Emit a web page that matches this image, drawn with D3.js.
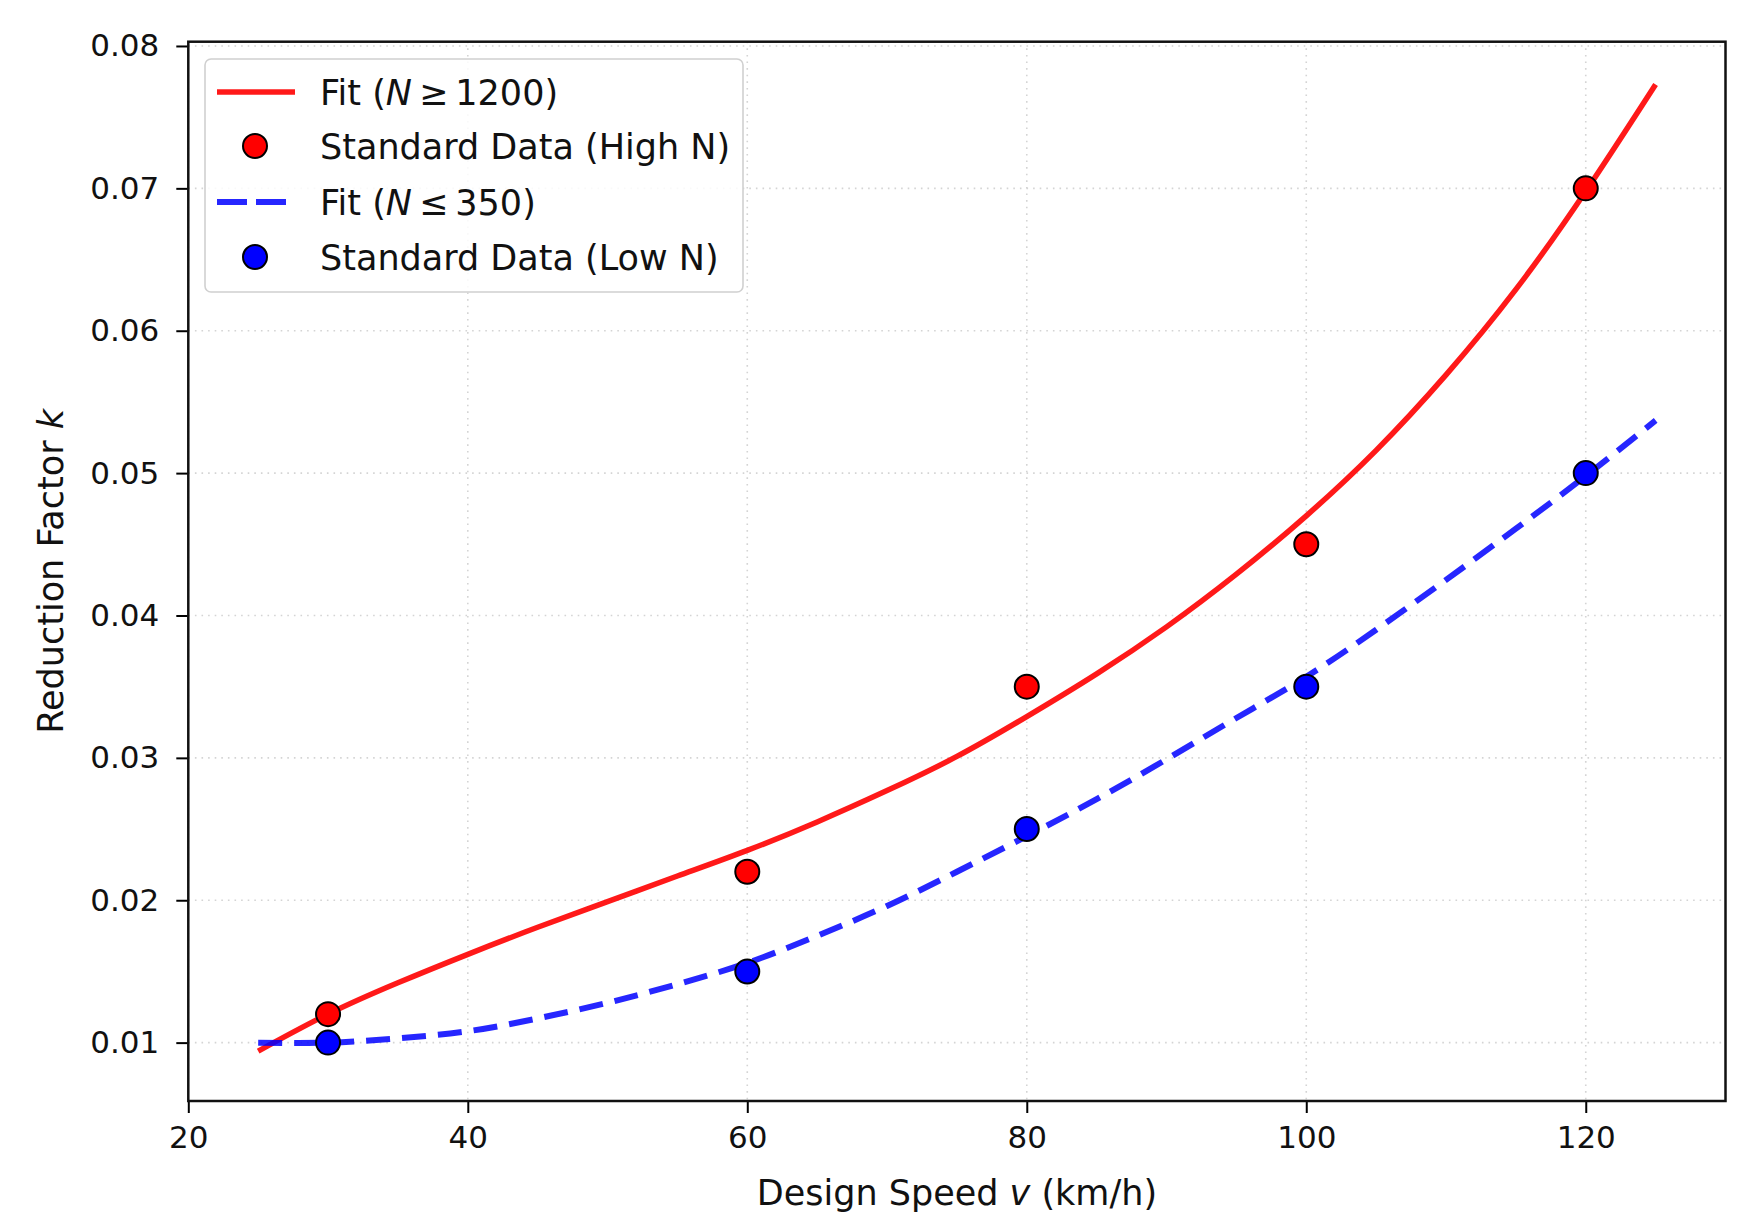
<!DOCTYPE html>
<html>
<head>
<meta charset="utf-8">
<script src="https://cdn.jsdelivr.net/npm/d3@7"></script>
<style>
  html, body { margin: 0; padding: 0; background: #fff; }
  svg { display: block; font-family: "DejaVu Sans", sans-serif; }
</style>
</head>
<body>
<svg id="chart" width="1763" height="1227"></svg>
<script>
// ---- data ----
const pointSpeeds = [30, 60, 80, 100, 120];
const highNData = [0.012, 0.022, 0.035, 0.045, 0.070];
const lowNData  = [0.010, 0.015, 0.025, 0.035, 0.050];

const fitSpeeds = [25, 30, 35, 40, 45, 50, 55, 60, 65, 70, 75, 80, 85, 90, 95, 100, 105, 110, 115, 120, 125];
const fitHigh = [0.0094, 0.0120, 0.0142, 0.0162, 0.0181, 0.0199, 0.0217, 0.0235, 0.0255, 0.0277, 0.0301,
                 0.0329, 0.0359, 0.0392, 0.0429, 0.0470, 0.0516, 0.0569, 0.0629, 0.0698, 0.0773];
const fitLow  = [0.0100, 0.0100, 0.0103, 0.0108, 0.0117, 0.0128, 0.0141, 0.0156, 0.0175, 0.0196, 0.0220,
                 0.0245, 0.0271, 0.0299, 0.0328, 0.0357, 0.0390, 0.0425, 0.0461, 0.0498, 0.0537];

const xTicks = [20, 40, 60, 80, 100, 120];
const yTicks = [0.01, 0.02, 0.03, 0.04, 0.05, 0.06, 0.07, 0.08];
const xDomain = [20, 130];
const yDomain = [0.0059, 0.0803];

const xLabel = "Design Speed ";
const yLabel = "Reduction Factor ";

// ---- layout ----
const L = 188.3, R = 1725.5, T = 41.7, B = 1101;
const svg = d3.select("#chart");

const x = d3.scaleLinear().domain(xDomain).range([L, R]);
const y = d3.scaleLinear().domain(yDomain).range([B, T]);

// grid
const grid = svg.append("g");
grid.selectAll("line.gx").data(xTicks).join("line")
  .attr("x1", d => x(d)).attr("x2", d => x(d)).attr("y1", T).attr("y2", B)
  .attr("stroke", "#d4d4d4").attr("stroke-width", 1.6).attr("stroke-dasharray", "1.6,5");
grid.selectAll("line.gy").data(yTicks).join("line")
  .attr("y1", d => y(d)).attr("y2", d => y(d)).attr("x1", L).attr("x2", R)
  .attr("stroke", "#d4d4d4").attr("stroke-width", 1.6).attr("stroke-dasharray", "1.6,5");

// axes
const xAxis = d3.axisBottom(x).tickValues(xTicks).tickFormat(d3.format("d")).tickSize(12).tickPadding(13);
const yAxis = d3.axisLeft(y).tickValues(yTicks).tickFormat(d3.format(".2f")).tickSize(12).tickPadding(17);

const gx = svg.append("g").attr("transform", `translate(0,${B})`).call(xAxis);
const gy = svg.append("g").attr("transform", `translate(${L},0)`).call(yAxis);
[gx, gy].forEach(g => {
  g.select(".domain").remove();
  g.selectAll(".tick line").attr("stroke", "#000").attr("stroke-width", 2);
  g.selectAll(".tick text").attr("fill", "#111").style("font-size", "31px")
    .style("font-family", "DejaVu Sans, sans-serif");
});

// lines
const line = d3.line().x(d => x(d[0])).y(d => y(d[1])).curve(d3.curveNatural);
svg.append("path")
  .datum(fitSpeeds.map((v, i) => [v, fitHigh[i]]))
  .attr("d", line).attr("fill", "none")
  .attr("stroke", "#ff0000").attr("stroke-opacity", 0.9).attr("stroke-width", 5.5);
svg.append("path")
  .datum(fitSpeeds.map((v, i) => [v, fitLow[i]]))
  .attr("d", line).attr("fill", "none")
  .attr("stroke", "#0000ff").attr("stroke-opacity", 0.85).attr("stroke-width", 6)
  .attr("stroke-dasharray", "24,12");

// points
svg.append("g").selectAll("circle").data(pointSpeeds.map((v, i) => [v, highNData[i]])).join("circle")
  .attr("cx", d => x(d[0])).attr("cy", d => y(d[1])).attr("r", 12)
  .attr("fill", "#ff0000").attr("stroke", "#000").attr("stroke-width", 2);
svg.append("g").selectAll("circle").data(pointSpeeds.map((v, i) => [v, lowNData[i]])).join("circle")
  .attr("cx", d => x(d[0])).attr("cy", d => y(d[1])).attr("r", 12)
  .attr("fill", "#0000ff").attr("stroke", "#000").attr("stroke-width", 2);

// spines
svg.append("rect").attr("x", L).attr("y", T).attr("width", R - L).attr("height", B - T)
  .attr("fill", "none").attr("stroke", "#111").attr("stroke-width", 2.5);

// axis labels
const xl = svg.append("text").attr("x", (L + R) / 2).attr("y", 1205)
  .attr("text-anchor", "middle").style("font-size", "35px").attr("fill", "#111");
xl.append("tspan").text(xLabel);
xl.append("tspan").style("font-style", "italic").text("v");
xl.append("tspan").text(" (km/h)");

const yl = svg.append("text").attr("transform", `translate(63,${(T + B) / 2}) rotate(-90)`)
  .attr("text-anchor", "middle").style("font-size", "35px").attr("fill", "#111");
yl.append("tspan").text(yLabel);
yl.append("tspan").style("font-style", "italic").text("k");

// legend
const lg = svg.append("g");
lg.append("rect").attr("x", 205).attr("y", 59).attr("width", 538).attr("height", 233)
  .attr("rx", 6).attr("fill", "#fff").attr("fill-opacity", 0.85)
  .attr("stroke", "#d0d0d0").attr("stroke-width", 1.6);

const rows = [
  { type: "line", color: "#ff0000", dash: null, label: ["Fit (", "N", "\u2009\u2265\u20091200)"] },
  { type: "dot", color: "#ff0000", label: ["Standard Data (High N)"] },
  { type: "line", color: "#0000ff", dash: "30,9", label: ["Fit (", "N", "\u2009\u2264\u2009350)"] },
  { type: "dot", color: "#0000ff", label: ["Standard Data (Low N)"] }
];
const rowY = [92, 146, 202, 257];
rows.forEach((r, i) => {
  const cy = rowY[i];
  if (r.type === "line") {
    lg.append("line").attr("x1", 217).attr("x2", 295).attr("y1", cy).attr("y2", cy)
      .attr("stroke", r.color).attr("stroke-width", r.dash ? 6 : 5.5)
      .attr("stroke-opacity", r.dash ? 0.85 : 0.9)
      .attr("stroke-dasharray", r.dash);
  } else {
    lg.append("circle").attr("cx", 255).attr("cy", cy).attr("r", 12)
      .attr("fill", r.color).attr("stroke", "#000").attr("stroke-width", 2);
  }
  const t = lg.append("text").attr("x", 320).attr("y", cy + 12.5)
    .style("font-size", "35px").attr("fill", "#111");
  r.label.forEach((s, j) => {
    const ts = t.append("tspan").text(s);
    if (r.label.length === 3 && j === 1) ts.style("font-style", "italic");
  });
});
</script>
</body>
</html>
